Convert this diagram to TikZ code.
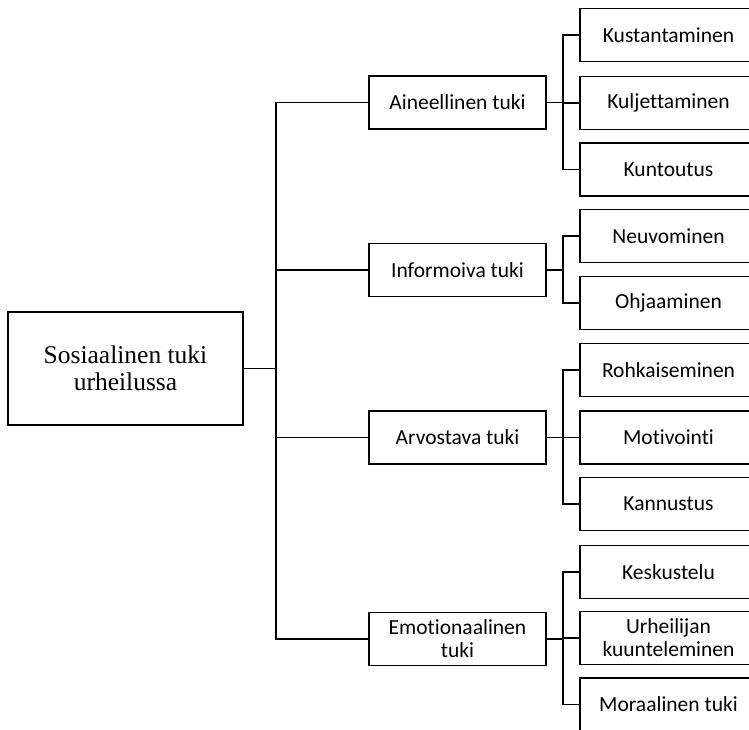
\documentclass[tikz,border=0pt]{standalone}
\usepackage{fontspec}
\setmainfont{Liberation Serif}
\newfontfamily\calibrifont{Carlito}[Ligatures={NoCommon}]
\begin{document}
\begin{tikzpicture}[x=1pt,y=-1pt,
  box/.style={draw=black,line width=1.9pt,fill=white,minimum width=177pt,minimum height=53pt,inner sep=2pt,align=center,font=\calibrifont\fontsize{21.5}{23}\selectfont},
  rootbox/.style={draw=black,line width=1.9pt,fill=white,minimum width=235pt,minimum height=113pt,align=center,font=\fontsize{25.5}{27}\selectfont},
  conn/.style={draw=black,line width=1.9pt}]
\clip (0,0) rectangle (749,729);
\fill[white] (0,0) rectangle (749,729);
\coordinate (b1) at (276,0);
\coordinate (b2) at (563,0);
\node[rootbox] (root) at (125.5,368.5) {Sosiaalinen tuki\\urheilussa};
\node[box] (a) at (457.5,102.5) {Aineellinen tuki};
\node[box] (i) at (457.5,270) {Informoiva tuki};
\node[box] (r) at (457.5,437.5) {Arvostava tuki};
\node[box] (e) at (457.5,639) {Emotionaalinen\\tuki};
\node[box] (a1) at (668.5,35) {Kustantaminen};
\node[box] (a2) at (668.5,103) {Kuljettaminen};
\node[box] (a3) at (668.5,169.5) {Kuntoutus};
\node[box] (i1) at (668.5,236) {Neuvominen};
\node[box] (i2) at (668.5,303) {Ohjaaminen};
\node[box] (r1) at (668.5,370) {Rohkaiseminen};
\node[box] (r2) at (668.5,437.5) {Motivointi};
\node[box] (r3) at (668.5,504) {Kannustus};
\node[box] (e1) at (668.5,572) {Keskustelu};
\node[box] (e2) at (668.5,638) {Urheilijan\\kuunteleminen};
\node[box] (e3) at (668.5,704.5) {Moraalinen tuki};
% root connectors
\draw[conn] (root.east) -- (root.east -| b1);
\draw[conn] (a.west) -- (a.west -| b1) -- (e.west -| b1) -- (e.west);
\draw[conn] (i.west) -- (i.west -| b1);
\draw[conn] (r.west) -- (r.west -| b1);
% group a
\draw[conn] (a.east) -- (a.east -| b2);
\draw[conn] (a1.west) -- (a1.west -| b2) -- (a3.west -| b2) -- (a3.west);
\draw[conn] (a2.west) -- (a2.west -| b2);
% group i
\draw[conn] (i.east) -- (i.east -| b2);
\draw[conn] (i1.west) -- (i1.west -| b2) -- (i2.west -| b2) -- (i2.west);
% group r
\draw[conn] (r.east) -- (r.east -| b2);
\draw[conn] (r1.west) -- (r1.west -| b2) -- (r3.west -| b2) -- (r3.west);
\draw[conn] (r2.west) -- (r2.west -| b2);
% group e
\draw[conn] (e.east) -- (e.east -| b2);
\draw[conn] (e1.west) -- (e1.west -| b2) -- (e3.west -| b2) -- (e3.west);
\draw[conn] (e2.west) -- (e2.west -| b2);
\end{tikzpicture}
\end{document}
